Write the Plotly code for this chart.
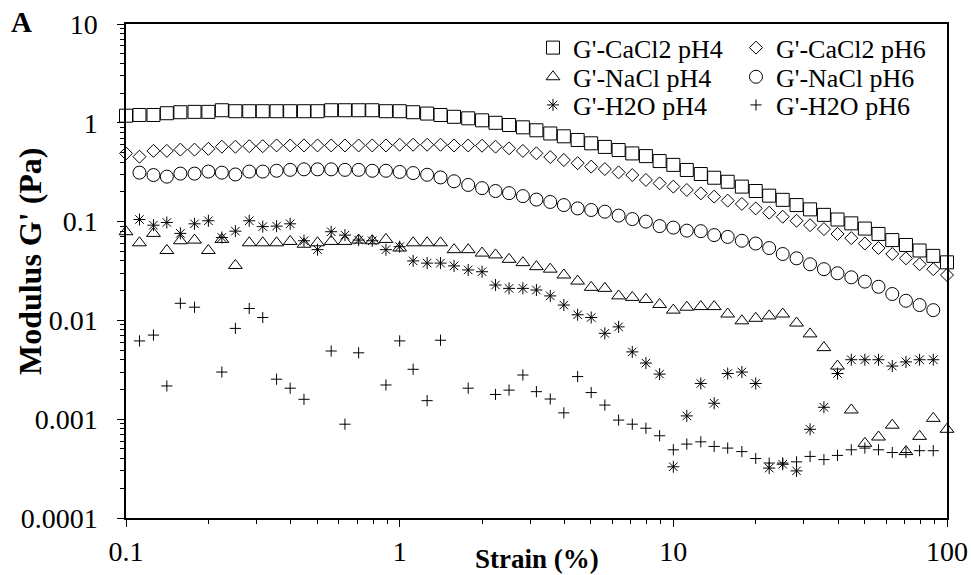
import plotly.graph_objects as go

strain = [0.1, 0.112, 0.126, 0.141, 0.158, 0.178, 0.2, 0.224, 0.251, 0.282,
          0.316, 0.355, 0.398, 0.447, 0.501, 0.562, 0.631, 0.708, 0.794, 0.891,
          1.0, 1.12, 1.26, 1.41, 1.58, 1.78, 2.0, 2.24, 2.51, 2.82,
          3.16, 3.55, 3.98, 4.47, 5.01, 5.62, 6.31, 7.08, 7.94, 8.91,
          10.0, 11.2, 12.6, 14.1, 15.8, 17.8, 20.0, 22.4, 25.1, 28.2,
          31.6, 35.5, 39.8, 44.7, 50.1, 56.2, 63.1, 70.8, 79.4, 89.1, 100.0]

cacl2_ph4 = [1.18, 1.20, 1.20, 1.25, 1.28, 1.29, 1.29, 1.34, 1.31, 1.31,
             1.31, 1.31, 1.31, 1.31, 1.31, 1.34, 1.34, 1.34, 1.34, 1.31,
             1.31, 1.28, 1.24, 1.20, 1.15, 1.11, 1.06, 1.00, 0.95, 0.90,
             0.84, 0.78, 0.73, 0.67, 0.62, 0.57, 0.53, 0.49, 0.46, 0.41,
             0.375, 0.333, 0.303, 0.278, 0.253, 0.226, 0.204, 0.183, 0.166, 0.147,
             0.133, 0.117, 0.105, 0.096, 0.085, 0.075, 0.065, 0.058, 0.051, 0.045, 0.0387]

cacl2_ph6 = [0.49, 0.454, 0.52, 0.52, 0.535, 0.535, 0.545, 0.573, 0.573, 0.58,
             0.58, 0.59, 0.59, 0.59, 0.59, 0.59, 0.59, 0.59, 0.59, 0.59,
             0.60, 0.60, 0.60, 0.60, 0.59, 0.59, 0.586, 0.573, 0.552, 0.519,
             0.491, 0.45, 0.42, 0.39, 0.36, 0.34, 0.315, 0.296, 0.264, 0.244,
             0.226, 0.209, 0.193, 0.179, 0.163, 0.151, 0.136, 0.123, 0.112, 0.102,
             0.092, 0.084, 0.075, 0.068, 0.060, 0.054, 0.047, 0.0425, 0.037, 0.033, 0.0288]

nacl_ph4 = [0.079, 0.061, 0.076, 0.051, 0.064, 0.065, 0.051, 0.066, 0.036, 0.061,
            0.061, 0.061, 0.063, 0.059, 0.061, 0.063, 0.063, 0.065, 0.064, 0.066,
            0.054, 0.061, 0.061, 0.061, 0.052, 0.052, 0.048, 0.046, 0.0415, 0.0384,
            0.035, 0.033, 0.0288, 0.025, 0.0216, 0.0211, 0.0177, 0.0171, 0.0163, 0.0145,
            0.0127, 0.0136, 0.0138, 0.0138, 0.0116, 0.0099, 0.0105, 0.0111, 0.0116, 0.0094,
            0.0073, 0.0053, 0.00345, 0.00124, 0.00057, 0.00066, 0.00087, 0.00047, 0.00067, 0.00102, 0.00079]

nacl_ph6 = [None, 0.313, 0.296, 0.285, 0.306, 0.306, 0.321, 0.313, 0.30, 0.321,
            0.321, 0.327, 0.334, 0.338, 0.338, 0.338, 0.334, 0.334, 0.327, 0.327,
            0.318, 0.31, 0.298, 0.28, 0.256, 0.235, 0.218, 0.204, 0.194, 0.181,
            0.167, 0.158, 0.147, 0.136, 0.131, 0.126, 0.115, 0.106, 0.100, 0.090,
            0.087, 0.081, 0.080, 0.073, 0.070, 0.064, 0.060, 0.054, 0.047, 0.0425,
            0.037, 0.033, 0.030, 0.0273, 0.0247, 0.0219, 0.0185, 0.0158, 0.0143, 0.0127, None]

h2o_ph4 = [None, 0.105, 0.092, 0.098, 0.076, 0.095, 0.102, 0.069, 0.080, 0.102,
           0.089, 0.090, 0.095, 0.064, 0.052, 0.079, 0.073, 0.065, 0.064, 0.052,
           0.0557, 0.040, 0.038, 0.038, 0.0356, 0.0324, 0.0311, 0.0228, 0.0211, 0.0211,
           0.0203, 0.0177, 0.0143, 0.0114, 0.0107, 0.0074, 0.0086, 0.0048, 0.0037, 0.00286,
           0.00033, 0.00108, 0.0023, 0.00145, 0.0029, 0.0030, 0.0023, 0.00032, 0.00035, 0.0003,
           0.00079, 0.00132, 0.0029, 0.0040, 0.0040, 0.0040, 0.00345, 0.0038, 0.0040, 0.0040, None]

h2o_ph6 = [None, 0.0062, 0.0071, 0.00217, 0.0149, 0.0136, None, 0.0030, 0.0083, 0.0132,
           0.0107, 0.00254, 0.00206, 0.00159, None, 0.0049, 0.00089, 0.0047, None, 0.00222,
           0.0062, 0.0032, 0.00154, 0.0063, None, 0.00206, None, 0.00178, 0.00197, 0.0028,
           0.0019, 0.0016, 0.00116, 0.0027, 0.00186, 0.00139, 0.00098, 0.00089, 0.00081, 0.00068,
           0.00049, 0.00056, 0.00059, 0.00053, 0.00051, 0.00047, 0.0004, 0.00036, 0.00036, 0.00037,
           0.00042, 0.00039, 0.00043, 0.00049, 0.00051, 0.00049, 0.00046, 0.00046, 0.00048, 0.00048, None]

series = [
    ("G'-CaCl2 pH4", cacl2_ph4, "square-open", 13, "legend"),
    ("G'-CaCl2 pH6", cacl2_ph6, "diamond-open", 10, "legend"),
    ("G'-NaCl pH4", nacl_ph4, "triangle-up-open", 12, "legend2"),
    ("G'-NaCl pH6", nacl_ph6, "circle-open", 13, "legend2"),
    ("G'-H2O pH4", h2o_ph4, "asterisk-open", 10, "legend3"),
    ("G'-H2O pH6", h2o_ph6, "cross-thin-open", 8, "legend3"),
]

FONT = "Liberation Serif"

fig = go.Figure()
for name, vals, sym, size, leg in series:
    fig.add_trace(go.Scatter(
        x=strain, y=vals, mode="markers", name=name, legend=leg,
        cliponaxis=False,
        marker=dict(symbol=sym, size=size, color="black",
                    line=dict(color="black", width=1)),
    ))

axis_common = dict(
    type="log", showgrid=False, zeroline=False, automargin=False,
    showline=True, linecolor="black", linewidth=1.5, mirror=True,
    ticks="outside", ticklen=7, tickcolor="black", tickwidth=1,
    dtick=1, exponentformat="none",
    tickfont=dict(family=FONT, size=28, color="black"),
    minor=dict(ticks="outside", ticklen=4, tickcolor="black", dtick="D1", showgrid=False),
)

legend_common = dict(
    orientation="h", entrywidth=158, entrywidthmode="pixels",
    x=0.4957, xanchor="left", yanchor="middle",
    bgcolor="rgba(0,0,0,0)", borderwidth=0,
    font=dict(family=FONT, size=26, color="black"),
)

fig.update_layout(
    width=971, height=575,
    margin=dict(l=126, r=24, t=24, b=57),
    paper_bgcolor="white", plot_bgcolor="white",
    font=dict(family=FONT, size=25, color="black"),
    xaxis=dict(range=[-1, 2], ticklabelstandoff=1, **axis_common),
    yaxis=dict(range=[-4, 1], ticklabelstandoff=14, **axis_common),
    legend=dict(y=0.952, **legend_common),
    legend2=dict(y=0.893, **legend_common),
    legend3=dict(y=0.836, **legend_common),
    annotations=[
        dict(text="<b>A</b>", xref="paper", yref="paper",
             x=-0.143, y=1.005, xanchor="left", yanchor="middle",
             showarrow=False, font=dict(family=FONT, size=29, color="black")),
        dict(text="<b>Strain (%)</b>", xref="paper", yref="paper",
             x=0.5, y=-0.083, xanchor="center", yanchor="middle",
             showarrow=False, font=dict(family=FONT, size=27, color="black")),
        dict(text="<b>Modulus G' (Pa)</b>", xref="paper", yref="paper",
             x=-0.117, y=0.52, xanchor="center", yanchor="middle", textangle=-90,
             showarrow=False, font=dict(family=FONT, size=32, color="black")),
    ],
)

fig.write_html("out.html")
